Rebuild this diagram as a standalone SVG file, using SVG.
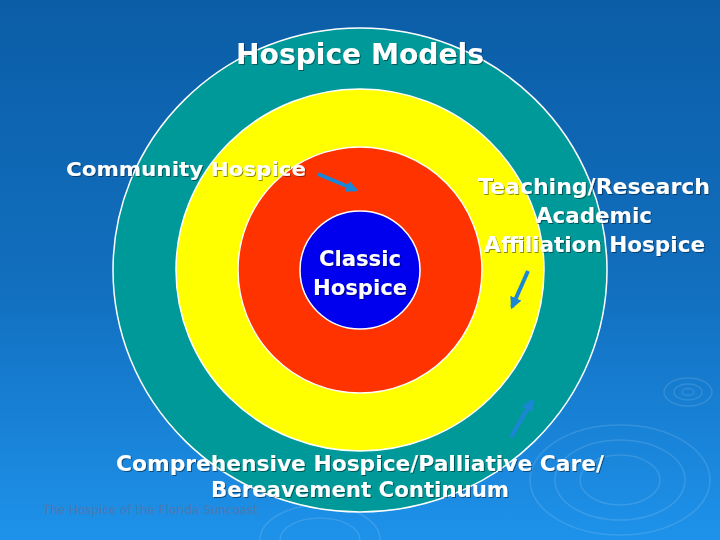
<svg xmlns="http://www.w3.org/2000/svg" width="720" height="540" viewBox="0 0 720 540">
<defs>
<linearGradient id="bg" x1="0" y1="0" x2="0" y2="1">
<stop offset="0" stop-color="#0B5DA6"/>
<stop offset="0.55" stop-color="#1270C0"/>
<stop offset="1" stop-color="#1E92EA"/>
</linearGradient>
<filter id="sh" x="-5%" y="-20%" width="110%" height="140%">
<feDropShadow dx="1" dy="1" stdDeviation="0.3" flood-color="#000" flood-opacity="0.45"/>
</filter>
<marker id="ah" viewBox="0 0 10 10" refX="8" refY="5" markerWidth="3" markerHeight="3" orient="auto" markerUnits="strokeWidth">
<path d="M0,0 L10,5 L0,10 z" fill="#1C86D6"/>
</marker>
</defs>
<style>
.ring{stroke:#FFFFFF;stroke-width:1.5}
.t{font-family:"DejaVu Sans","Liberation Sans",sans-serif;font-weight:bold;fill:#FFFFFF;filter:url(#sh)}
.ar{stroke:#1C86D6;stroke-width:4;fill:none;marker-end:url(#ah)}
.rip{fill:none;stroke:#FFFFFF;stroke-opacity:0.12;stroke-width:1.5}
</style>
<rect width="720" height="540" fill="url(#bg)"/>
<g id="ripples">
<ellipse class="rip" cx="688" cy="392" rx="24" ry="14"/>
<ellipse class="rip" cx="688" cy="392" rx="14" ry="8"/>
<ellipse class="rip" cx="688" cy="392" rx="6" ry="3.5"/>
<ellipse class="rip" cx="620" cy="480" rx="90" ry="55"/>
<ellipse class="rip" cx="620" cy="480" rx="65" ry="40"/>
<ellipse class="rip" cx="620" cy="480" rx="40" ry="25"/>
<ellipse class="rip" cx="320" cy="540" rx="60" ry="35"/>
<ellipse class="rip" cx="320" cy="540" rx="40" ry="22"/>
</g>
<g id="comprehensive">
<ellipse class="ring" cx="360" cy="270" rx="247" ry="242" fill="#009999"/>
</g>
<g id="teaching">
<ellipse class="ring" cx="360" cy="270" rx="184" ry="181" fill="#FFFF00"/>
</g>
<g id="community">
<ellipse class="ring" cx="360" cy="270" rx="122" ry="123" fill="#FF3300"/>
</g>
<g id="classic">
<ellipse class="ring" cx="360" cy="270" rx="60" ry="59" fill="#0000EE"/>
<text class="t" x="360" y="266" font-size="21" text-anchor="middle" textLength="82" lengthAdjust="spacingAndGlyphs">Classic</text>
<text class="t" x="360" y="295" font-size="21" text-anchor="middle" textLength="94" lengthAdjust="spacingAndGlyphs">Hospice</text>
</g>
<g id="labels">
<text class="t" x="360" y="64" font-size="28" text-anchor="middle" textLength="248" lengthAdjust="spacingAndGlyphs">Hospice Models</text>
<text class="t" x="66" y="176" font-size="20" textLength="240" lengthAdjust="spacingAndGlyphs">Community Hospice</text>
<text class="t" x="478" y="194" font-size="21" textLength="232" lengthAdjust="spacingAndGlyphs">Teaching/Research</text>
<text class="t" x="594" y="223" font-size="21" text-anchor="middle" textLength="116" lengthAdjust="spacingAndGlyphs">Academic</text>
<text class="t" x="484" y="252" font-size="21" textLength="221" lengthAdjust="spacingAndGlyphs">Affiliation Hospice</text>
<text class="t" x="116" y="471" font-size="21" textLength="488" lengthAdjust="spacingAndGlyphs">Comprehensive Hospice/Palliative Care/</text>
<text class="t" x="211" y="497" font-size="21" textLength="298" lengthAdjust="spacingAndGlyphs">Bereavement Continuum</text>
<text x="43" y="514" font-family="'DejaVu Sans','Liberation Sans',sans-serif" font-size="12" fill="#4F78AE" textLength="215" lengthAdjust="spacingAndGlyphs">The Hospice of the Florida Suncoast</text>
</g>
<g id="connectors">
<line class="ar" x1="318" y1="174" x2="356" y2="190"/>
<line class="ar" x1="528" y1="271" x2="512" y2="307"/>
<line class="ar" x1="511" y1="437" x2="532" y2="401"/>
</g>
</svg>
